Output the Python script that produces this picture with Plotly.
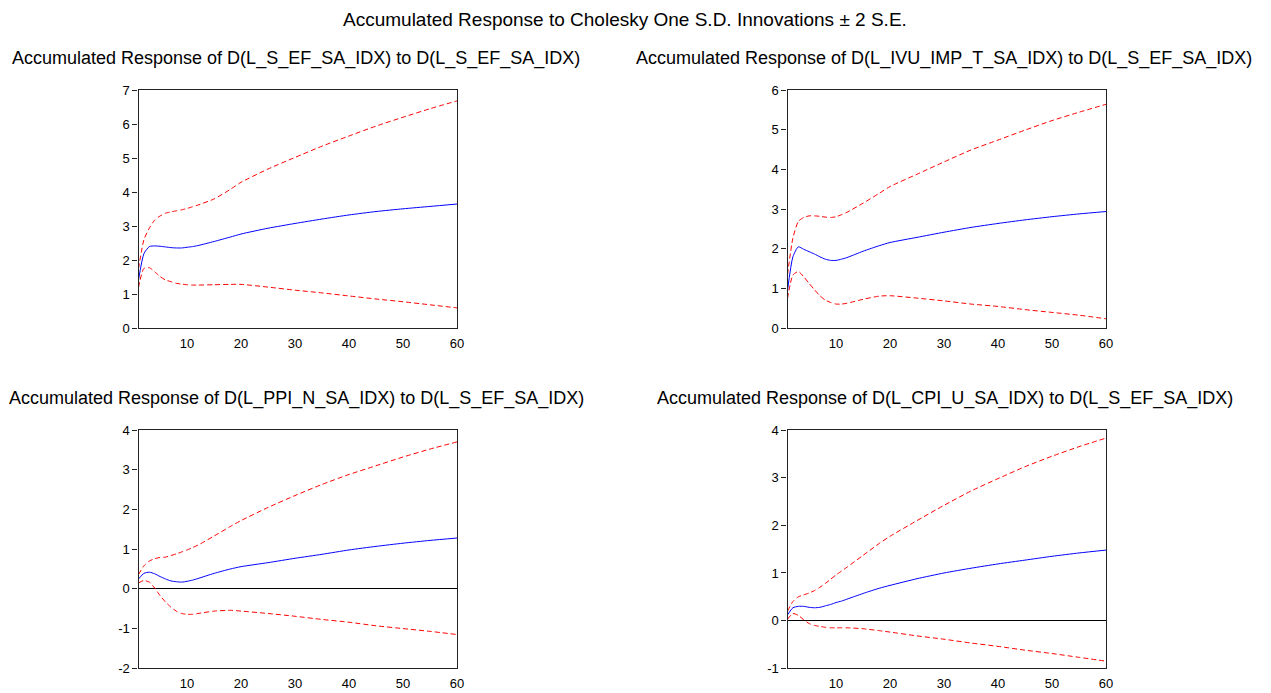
import plotly.graph_objects as go

periods = [1, 2, 3, 4, 5, 6, 7, 8, 9, 10, 11, 12, 15, 18, 20, 25, 30, 35, 40, 45, 50, 55, 60]

p1_mean = [1.42, 2.19, 2.40, 2.42, 2.41, 2.39, 2.37, 2.36, 2.36, 2.38, 2.40, 2.43, 2.55, 2.68, 2.77, 2.94, 3.08, 3.21, 3.33, 3.43, 3.51, 3.58, 3.65]
p1_upper = [1.75, 2.60, 2.94, 3.18, 3.30, 3.38, 3.42, 3.45, 3.48, 3.52, 3.57, 3.62, 3.80, 4.08, 4.29, 4.68, 5.02, 5.35, 5.65, 5.94, 6.20, 6.45, 6.68]
p1_lower = [1.20, 1.76, 1.78, 1.66, 1.52, 1.42, 1.37, 1.32, 1.30, 1.28, 1.27, 1.27, 1.28, 1.29, 1.29, 1.21, 1.12, 1.04, 0.95, 0.86, 0.78, 0.69, 0.60]

p2_mean = [0.95, 1.80, 2.05, 1.99, 1.93, 1.87, 1.80, 1.74, 1.71, 1.71, 1.74, 1.78, 1.94, 2.08, 2.16, 2.29, 2.42, 2.54, 2.64, 2.73, 2.81, 2.88, 2.94]
p2_upper = [1.35, 2.27, 2.69, 2.79, 2.83, 2.83, 2.82, 2.80, 2.79, 2.81, 2.86, 2.92, 3.15, 3.40, 3.57, 3.88, 4.19, 4.49, 4.74, 4.99, 5.23, 5.44, 5.64]
p2_lower = [0.75, 1.34, 1.43, 1.30, 1.13, 0.97, 0.82, 0.71, 0.65, 0.61, 0.61, 0.63, 0.73, 0.81, 0.82, 0.76, 0.69, 0.61, 0.55, 0.47, 0.40, 0.33, 0.24]

p3_mean = [0.25, 0.39, 0.42, 0.38, 0.31, 0.25, 0.20, 0.18, 0.17, 0.19, 0.22, 0.26, 0.39, 0.50, 0.56, 0.66, 0.77, 0.87, 0.98, 1.07, 1.15, 1.22, 1.28]
p3_upper = [0.36, 0.58, 0.70, 0.76, 0.79, 0.80, 0.84, 0.88, 0.93, 0.98, 1.04, 1.10, 1.33, 1.57, 1.72, 2.05, 2.35, 2.63, 2.88, 3.10, 3.32, 3.52, 3.70]
p3_lower = [0.15, 0.21, 0.17, 0.02, -0.17, -0.33, -0.46, -0.56, -0.62, -0.64, -0.64, -0.62, -0.56, -0.54, -0.56, -0.62, -0.69, -0.77, -0.84, -0.93, -1.00, -1.07, -1.15]

p4_mean = [0.12, 0.27, 0.30, 0.30, 0.28, 0.27, 0.28, 0.31, 0.34, 0.38, 0.41, 0.45, 0.57, 0.68, 0.74, 0.88, 1.00, 1.10, 1.19, 1.27, 1.35, 1.42, 1.48]
p4_upper = [0.20, 0.40, 0.50, 0.54, 0.58, 0.63, 0.70, 0.78, 0.87, 0.96, 1.04, 1.12, 1.37, 1.62, 1.77, 2.10, 2.42, 2.72, 2.98, 3.23, 3.45, 3.65, 3.83]
p4_lower = [0.03, 0.15, 0.11, 0.02, -0.06, -0.10, -0.12, -0.14, -0.15, -0.15, -0.15, -0.15, -0.17, -0.21, -0.24, -0.32, -0.39, -0.47, -0.54, -0.62, -0.69, -0.77, -0.85]

main_title = "Accumulated Response to Cholesky One S.D. Innovations \u00b1 2 S.E."
panel_titles = [
    "Accumulated Response of D(L_S_EF_SA_IDX) to D(L_S_EF_SA_IDX)",
    "Accumulated Response of D(L_IVU_IMP_T_SA_IDX) to D(L_S_EF_SA_IDX)",
    "Accumulated Response of D(L_PPI_N_SA_IDX) to D(L_S_EF_SA_IDX)",
    "Accumulated Response of D(L_CPI_U_SA_IDX) to D(L_S_EF_SA_IDX)",
]
y_tickvals = [[0, 1, 2, 3, 4, 5, 6, 7], [0, 1, 2, 3, 4, 5, 6],
              [-2, -1, 0, 1, 2, 3, 4], [-1, 0, 1, 2, 3, 4]]
y_ticktext = [["0", "1", "2", "3", "4", "5", "6", "7"], ["0", "1", "2", "3", "4", "5", "6"],
              ["-2", "-1", "0", "1", "2", "3", "4"], ["-1", "0", "1", "2", "3", "4"]]
y_ranges = [[0, 7], [0, 6], [-2, 4], [-1, 4]]
x_ticks = [10, 20, 30, 40, 50, 60]

W, H = 1271, 693
panels = [
    (p1_mean, p1_upper, p1_lower),
    (p2_mean, p2_upper, p2_lower),
    (p3_mean, p3_upper, p3_lower),
    (p4_mean, p4_upper, p4_lower),
]
# target page-pixel boxes (left, right, top, bottom)
boxes = [(138.5, 457, 90, 328.3), (787.5, 1106, 90, 328.3),
         (138.5, 457, 430, 668.3), (787.5, 1106, 430, 668.3)]
title_y = [58, 58, 398, 398]
title_x = [296, 944, 296, 945]


def fx(px):
    return px / W


def fy(py):
    return 1 - py / H


fig = go.Figure()
font = "Liberation Sans, Arial, sans-serif"
for i, (mean, up, lo) in enumerate(panels):
    n = i + 1
    xa = "x" if n == 1 else f"x{n}"
    ya = "y" if n == 1 else f"y{n}"
    for vals, color, dash in [(up, "#ff0000", "5px,3px"), (lo, "#ff0000", "5px,3px"), (mean, "#0000ff", "solid")]:
        fig.add_trace(go.Scatter(x=periods, y=vals, xaxis=xa, yaxis=ya, mode="lines",
                                 line=dict(color=color, width=1, dash=dash, shape="spline", smoothing=0.6),
                                 showlegend=False, hoverinfo="skip"))
    l, r, t, b = boxes[i]
    kx = "xaxis" if n == 1 else f"xaxis{n}"
    ky = "yaxis" if n == 1 else f"yaxis{n}"
    fig.layout[kx] = dict(domain=[fx(l), fx(r)], anchor=ya, range=[1, 60], tickvals=x_ticks,
                          showgrid=False, zeroline=False, showline=True, linecolor="#222222", linewidth=1.2,
                          mirror=True, ticks="", automargin=False, ticklabelstandoff=3,
                          tickfont=dict(family=font, size=13, color="black"))
    fig.layout[ky] = dict(domain=[fy(b), fy(t)], anchor=xa, range=y_ranges[i],
                          tickvals=y_tickvals[i], ticktext=y_ticktext[i],
                          showgrid=False, zeroline=(y_ranges[i][0] < 0), zerolinecolor="black", zerolinewidth=1,
                          showline=True, linecolor="#222222", linewidth=1.2, mirror=True,
                          ticks="outside", ticklen=5, tickcolor="#222222", automargin=False,
                          tickfont=dict(family=font, size=13, color="black"))
    fig.add_annotation(text=panel_titles[i], x=fx(title_x[i]), y=fy(title_y[i]), xref="paper", yref="paper",
                       showarrow=False, xanchor="center", yanchor="middle",
                       font=dict(family=font, size=18, color="black"))

fig.add_annotation(text=main_title, x=fx(625), y=fy(20), xref="paper", yref="paper", showarrow=False,
                   xanchor="center", yanchor="middle", font=dict(family=font, size=19, color="black"))

fig.update_layout(width=W, height=H, margin=dict(l=0, r=0, t=0, b=0), plot_bgcolor="white",
                  paper_bgcolor="white")
fig.write_html("out.html", config={"displayModeBar": False},
               post_script="document.body.style.margin='0';")
